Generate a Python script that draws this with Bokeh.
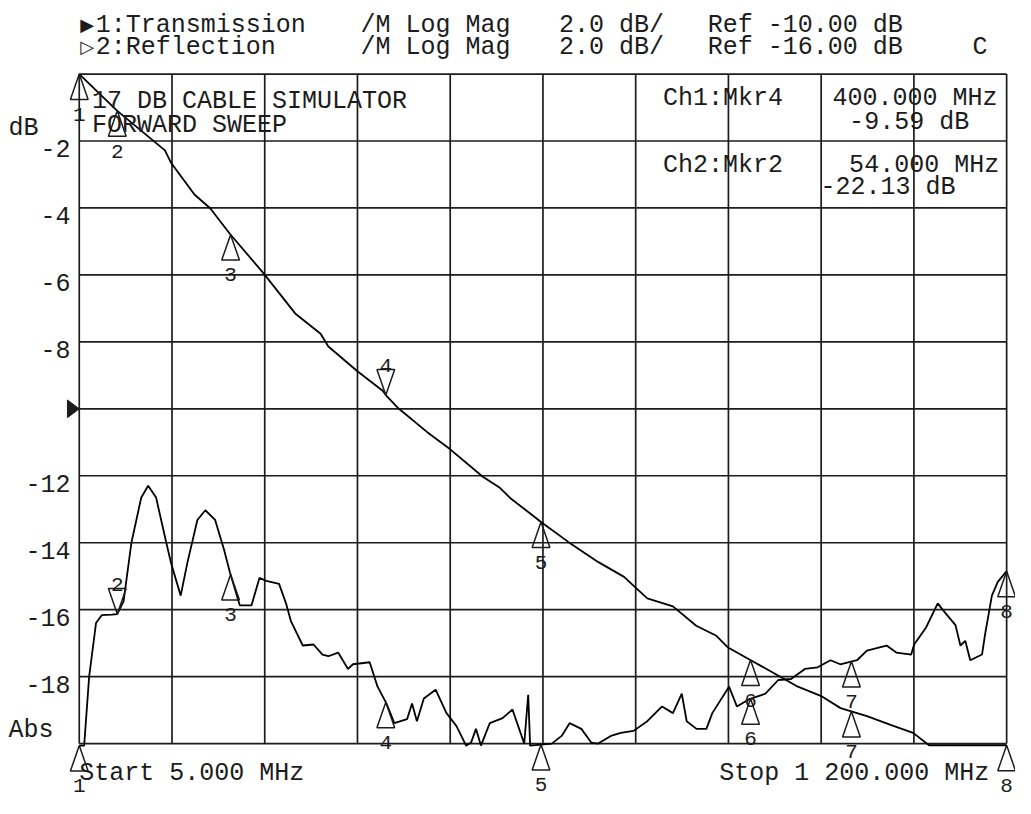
import numpy as np
from bokeh.plotting import figure
from bokeh.models import Range1d
from bokeh.core.properties import value
from bokeh.embed import file_html
from bokeh.resources import INLINE

# ---------------- data ----------------
START_MHZ = 5.0
STOP_MHZ = 1200.0
CH1_REF_DB = -10.0
CH2_REF_DB = -16.0
DB_PER_DIV = 2.0
N_DIV = 10

trans_freq = [5, 54, 115.4, 123, 153.4, 173.7, 199, 242, 284, 316, 326, 363, 396, 400,
              415, 453, 483, 525, 547, 561, 589, 600, 636, 674, 707, 720.5, 737, 770,
              800, 826, 841, 868, 902, 931, 962, 986, 1020, 1054, 1079.5, 1100, 1200]
trans_db = [0.0, -1.10, -2.28, -2.64, -3.60, -4.01, -4.77, -5.94, -7.17, -7.76, -8.14,
            -8.87, -9.46, -9.59, -9.96, -10.69, -11.21, -12.03, -12.36, -12.68, -13.18,
            -13.38, -13.99, -14.58, -15.02, -15.31, -15.66, -15.90, -16.48, -16.78,
            -17.13, -17.48, -17.92, -18.30, -18.59, -18.94, -19.18, -19.47, -19.68,
            -20.05, -20.05]

refl_freq = [5, 11.3, 17.7, 26.6, 34.2, 46.9, 54, 55.7, 62.1, 72.2, 84.9, 93.8, 104.0,
             115.4, 123.0, 135.7, 144.5, 157.2, 167.4, 180.1, 191.5, 199.1, 211.8, 227.0,
             237.2, 246.0, 262.5, 271.4, 277.7, 293.0, 306.9, 318.3, 326.0, 338.6, 351.3,
             357.7, 379.2, 389.4, 400.8, 411.0, 427.4, 433.8, 440.1, 449.0, 464.2, 478.2,
             490.9, 503.5, 509.9, 516.2, 522.6, 534.0, 550.5, 563.2, 578.4, 583.5, 586.0,
             613.9, 626.6, 636.8, 652.0, 664.7, 673.6, 690.0, 702.7, 719.2, 737.0, 756.0,
             770.0, 781.4, 787.7, 800.4, 813.1, 820.7, 842.3, 852.4, 867.6, 889.2, 905.7,
             922.2, 940.0, 956.5, 973.0, 985.6, 1007.2, 1019.9, 1045.3, 1057.9, 1077.0,
             1080.8, 1096.0, 1111.2, 1121.4, 1134.1, 1140.4, 1146.7, 1153.1, 1168.3,
             1172.1, 1181.0, 1188.6, 1200]
refl_db = [-26.06, -26.06, -24.01, -22.40, -22.16, -22.15, -22.13, -22.05, -21.75, -20.00,
           -18.65, -18.30, -18.65, -19.82, -20.58, -21.58, -20.58, -19.32, -19.03, -19.32,
           -20.20, -20.88, -21.87, -21.87, -21.05, -21.14, -21.23, -21.81, -22.34, -23.07,
           -23.04, -23.34, -23.39, -23.28, -23.77, -23.63, -23.57, -24.30, -24.80, -25.39,
           -25.27, -24.80, -25.33, -24.65, -24.39, -25.09, -25.47, -26.06, -25.97, -25.56,
           -26.06, -25.39, -25.24, -24.98, -26.00, -24.54, -26.06, -26.00, -25.77, -25.39,
           -25.56, -25.97, -26.00, -25.77, -25.68, -25.62, -25.33, -24.89, -25.09, -24.51,
           -25.33, -25.56, -25.56, -25.09, -24.30, -24.89, -24.68, -24.51, -24.10, -24.07,
           -23.77, -23.72, -23.51, -23.63, -23.51, -23.22, -23.07, -23.28, -23.34, -23.04,
           -22.54, -21.81, -22.11, -22.46, -23.07, -22.93, -23.51, -23.34, -22.75, -21.58,
           -21.17, -20.85]

marker_freq = [5, 54, 200, 400, 600, 870, 1000, 1200]
marker_names = ["1", "2", "3", "4", "5", "6", "7", "8"]
ch1_active = "4"
ch2_active = "2"

ytick_values = [-2, -4, -6, -8, -12, -14, -16, -18]
ytick_labels = ["-2", "-4", "-6", "-8", "-12", "-14", "-16", "-18"]

title_lines = ["17 DB CABLE SIMULATOR", "FORWARD SWEEP"]
ch1_name = "1:Transmission"
ch2_name = "2:Reflection"
format_text = "/M Log Mag"

# ---------------- geometry (reference picture pixels) ----------------
REF_W, REF_H = 1031, 814
W, H = 1015, 798
GL, GR, GT, GB = 80.0, 1022.0, 75.0, 758.0
PITCH = 16.8

top_db = CH1_REF_DB + DB_PER_DIV * N_DIV / 2
bot_db = CH1_REF_DB - DB_PER_DIV * N_DIV / 2
xpp = (STOP_MHZ - START_MHZ) / (GR - GL)
ypp = (top_db - bot_db) / (GB - GT)
x_lo = START_MHZ - GL * xpp
x_hi = START_MHZ + (REF_W - GL) * xpp
y_hi = top_db + GT * ypp
y_lo = top_db - (REF_H - GT) * ypp
SY = H / REF_H


def X(px):
    return x_lo + px * (x_hi - x_lo) / REF_W


def Y(py):
    return y_hi - py * (y_hi - y_lo) / REF_H


ch2_shift = CH2_REF_DB - CH1_REF_DB

p = figure(width=W, height=H, x_range=Range1d(x_lo, x_hi), y_range=Range1d(y_lo, y_hi),
           output_backend="svg", toolbar_location=None, min_border=0,
           x_axis_location=None, y_axis_location=None)
p.extra_y_ranges = {"ch2": Range1d(y_lo + ch2_shift, y_hi + ch2_shift)}
p.xgrid.visible = False
p.ygrid.visible = False
p.outline_line_color = None
p.background_fill_color = "white"
p.border_fill_color = "white"

INK = "#1c1c1c"

# graticule
xt = [START_MHZ + i * (STOP_MHZ - START_MHZ) / N_DIV for i in range(N_DIV + 1)]
yt = [top_db - i * DB_PER_DIV for i in range(N_DIV + 1)]
p.segment(x0=xt, y0=[bot_db] * len(xt), x1=xt, y1=[top_db] * len(xt),
          line_color=INK, line_width=1.7)
p.segment(x0=[START_MHZ] * len(yt), y0=yt, x1=[STOP_MHZ] * len(yt), y1=yt,
          line_color=INK, line_width=1.7)

# traces
p.line(trans_freq, trans_db, line_color="black", line_width=1.8)
p.line(refl_freq, refl_db, line_color="black", line_width=1.8, y_range_name="ch2")

# markers
tw = 9 * xpp
th = 26 * ypp


def draw_markers(freqs, vals, active, rng):
    xs, ys = [], []
    lx, ly, ltxt, loff = [], [], [], []
    for f, v, name in zip(freqs, vals, marker_names):
        if name == active:
            xs.append([f - tw, f + tw, f])
            ys.append([v + th, v + th, v])
            loff.append(-30 * SY)
        else:
            xs.append([f - tw, f + tw, f])
            ys.append([v - th, v - th, v])
            loff.append(41 * SY)
        lx.append(f)
        ly.append(v)
        ltxt.append(name)
    kw = {} if rng is None else {"y_range_name": rng}
    p.patches(xs, ys, fill_color=None, line_color=INK, line_width=1.5, **kw)
    p.text(x=lx, y=ly, text=ltxt, y_offset=loff, text_align="center",
           text_baseline="alphabetic", text_font=value("Liberation Mono"),
           text_font_size="21px", text_color=INK, **kw)


m1 = np.interp(marker_freq, trans_freq, trans_db)
m2 = np.interp(marker_freq, refl_freq, refl_db)
draw_markers(marker_freq, m1, ch1_active, None)
draw_markers(marker_freq, m2, ch2_active, "ch2")

# reference level pointer (ch1)
p.patch([START_MHZ, START_MHZ - 12 * xpp, START_MHZ - 12 * xpp],
        [CH1_REF_DB, CH1_REF_DB + 9 * ypp, CH1_REF_DB - 9 * ypp],
        fill_color=INK, line_color=INK)

# ---------------- texts ----------------
FONT = value("Liberation Mono")
FS = "25px"


def put(items, align="left", size=FS, font=FONT):
    p.text(x=[X(a) for a, b, t in items], y=[Y(b) for a, b, t in items],
           text=[t for a, b, t in items], text_align=align, text_baseline="alphabetic",
           text_font=font, text_font_size=size, text_color=INK)


def col(c):
    return GL + c * PITCH


ref1 = f"Ref {CH1_REF_DB:.2f} dB"
ref2 = f"Ref {CH2_REF_DB:.2f} dB"
scale_txt = f"{DB_PER_DIV:.1f} dB/"
put([
    (col(1), 25, ch1_name), (col(17), 25, format_text), (col(29), 25, scale_txt),
    (col(38), 25, ref1),
    (col(1), 48, ch2_name), (col(17), 48, format_text), (col(29), 48, scale_txt),
    (col(38), 48, ref2), (col(54), 48, "C"),
])
put([(col(0) + 1, 24, "\u25B6"), (col(0) + 1, 47, "\u25B7")], size="18px",
    font=value("DejaVu Sans"))

put([(93, 103, title_lines[0]), (93, 127, title_lines[1])])

i4 = marker_names.index(ch1_active)
i2 = marker_names.index(ch2_active)
put([
    (673, 100, "Ch1:Mkr" + ch1_active),
    (845, 100, f"{marker_freq[i4]:.3f} MHz"),
    (862, 124, f"{m1[i4]:.2f} dB"),
    (673, 168, "Ch2:Mkr" + ch2_active),
    (862, 168, f"{marker_freq[i2]:.3f} MHz"),
    (833, 191, f"{m2[i2]:.2f} dB"),
])

put([(8, 131, "dB"), (8, 745, "Abs")])
p.text(x=[X(71)] * len(ytick_values), y=ytick_values, text=ytick_labels,
       y_offset=8 * SY, text_align="right", text_baseline="alphabetic",
       text_font=FONT, text_font_size=FS, text_color=INK)

stop_txt = f"{STOP_MHZ:,.3f}".replace(",", " ")
put([(80, 788, f"Start {START_MHZ:.3f} MHz"), (730, 788, f"Stop {stop_txt} MHz")])

open("out.html", "w").write(file_html(p, INLINE))
